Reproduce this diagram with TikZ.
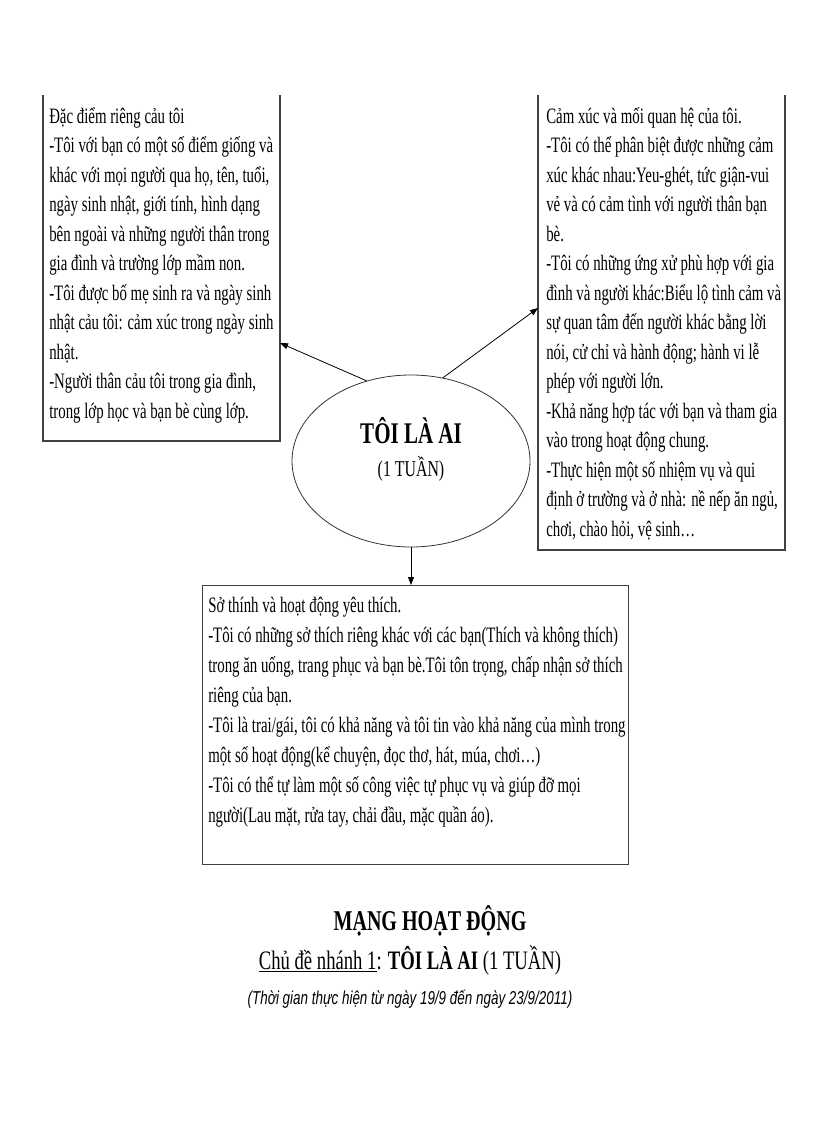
\documentclass[tikz,border=0pt]{standalone}
\usepackage{fontspec}
\setmainfont{Liberation Serif}
\newfontfamily\bodyf[FakeStretch=0.7]{Liberation Serif}
\newfontfamily\boxf[FakeStretch=0.675]{Liberation Serif}
\newfontfamily\datef[FakeStretch=0.72]{Liberation Sans}
\usetikzlibrary{arrows.meta,shapes.geometric}
\tikzset{
  boxline/.style={draw=black!75, line width=0.9pt},
  boxtext/.style={anchor=base west, inner sep=0pt, align=left,
    font=\boxf\fontsize{16.5}{22.1}\selectfont},
  link/.style={-{Triangle[length=6pt,width=4.5pt]}, line width=0.6pt},
  titletext/.style={anchor=base, inner sep=0pt},
}
\begin{document}
\begin{tikzpicture}[x=0.75pt,y=-0.75pt]
\fill[white] (0,0) rectangle (816,1123);
\useasboundingbox (0,0) rectangle (816,1123);

% left box (no top edge); text node anchored at its last baseline
\coordinate (Ltl) at (43,95);
\coordinate (Lbl) at (43,441);
\coordinate (Lbr) at (280,441);
\coordinate (Ltr) at (280,95);
\draw[boxline] (Ltl) -- (Lbl) -- (Lbr) -- (Ltr);
\node[boxtext] (Ltext) at (49,418) {Đặc điểm riêng  cảu tôi\\
-Tôi với bạn có một số điểm giống và\\
khác với mọi người  qua họ, tên, tuổi,\\
ngày sinh nhật, giới tính, hình dạng\\
bên ngoài và những người thân trong\\
gia đình và trường lớp mầm non.\\
-Tôi được bố mẹ sinh ra và ngày sinh\\
nhật cảu tôi: cảm xúc trong ngày sinh\\
nhật.\\
-Người thân  cảu tôi trong gia  đình,\\
trong lớp học và bạn bè cùng lớp.};

% right box (no top edge)
\coordinate (Rtl) at (538,95);
\coordinate (Rbl) at (538,550);
\coordinate (Rbr) at (785,550);
\coordinate (Rtr) at (785,95);
\draw[boxline] (Rtl) -- (Rbl) -- (Rbr) -- (Rtr);
\node[boxtext] (Rtext) at (546,536) {Cảm xúc và mối quan hệ của tôi.\\
-Tôi có thể phân biệt  được những cảm\\
xúc khác nhau:Yeu-ghét,  tức giận-vui\\
vẻ và có cảm tình với người thân bạn\\
bè.\\
-Tôi có những ứng xử phù hợp với gia\\
đình và người khác:Biểu  lộ tình cảm và\\
sự quan tâm  đến người khác bằng lời\\
nói,  cử chỉ và hành động; hành vi lễ\\
phép với người lớn.\\
-Khả năng hợp tác với bạn và tham gia\\
vào trong hoạt động chung.\\
-Thực hiện  một số nhiệm  vụ và qui\\
định ở trường và ở nhà: nề nếp ăn ngủ,\\
chơi,  chào hỏi, vệ sinh…};

% centre ellipse
\node[ellipse, draw=black!80, line width=0.6pt, minimum width=178.5pt,
  minimum height=129pt, inner sep=0pt] (E) at (411,461) {};
\node[titletext, font=\bodyf\bfseries\fontsize{22.5}{26}\selectfont] (Et1) at (411,443) {TÔI LÀ AI};
\node[titletext, font=\bodyf\fontsize{17}{20}\selectfont] (Et2) at (411,476) {(1 TUẦN)};

% bottom box
\node[boxline, rectangle, minimum width=319.5pt, minimum height=209pt,
  anchor=north west, inner sep=0pt] (B) at (202,585) {};
\node[boxtext, font=\boxf\fontsize{16.5}{22.5}\selectfont] (Btext) at (208,822) {Sở thính và hoạt động yêu thích.\\
-Tôi có những sở thích riêng  khác với  các bạn(Thích và không thích)\\
trong ăn uống, trang phục và bạn bè.Tôi tôn trọng,  chấp nhận  sở thích\\
riêng  của bạn.\\
-Tôi là trai/gái,  tôi có khả năng và tôi tin vào khả năng của mình trong\\
một số hoạt động(kể chuyện,  đọc thơ, hát, múa,  chơi…)\\
-Tôi có thể tự làm  một số công việc tự phục vụ và giúp  đỡ mọi\\
người(Lau  mặt, rửa tay, chải đầu, mặc quần áo).};

% connectors
\coordinate (Lin) at (280,343);
\coordinate (Rin) at (538,308);
\draw[link] (E.119) -- (Lin);
\draw[link] (E.69) -- (Rin);
\draw[link] (E.south) -- (E.south |- B.north);

% title
\node[titletext, font=\bodyf\bfseries\fontsize{21.5}{24}\selectfont] (T1) at (430,930) {MẠNG HOẠT ĐỘNG};
\node[titletext, font=\bodyf\fontsize{20}{24}\selectfont] (T2) at (410,969) {\underline{Chủ đề nhánh 1}: \textbf{TÔI LÀ AI} (1 TUẦN)};
\node[titletext, font=\datef\itshape\fontsize{14}{17}\selectfont] (T3) at (410,1004) {(Thời gian thực hiện từ ngày 19/9 đến ngày 23/9/2011)};
\end{tikzpicture}
\end{document}
